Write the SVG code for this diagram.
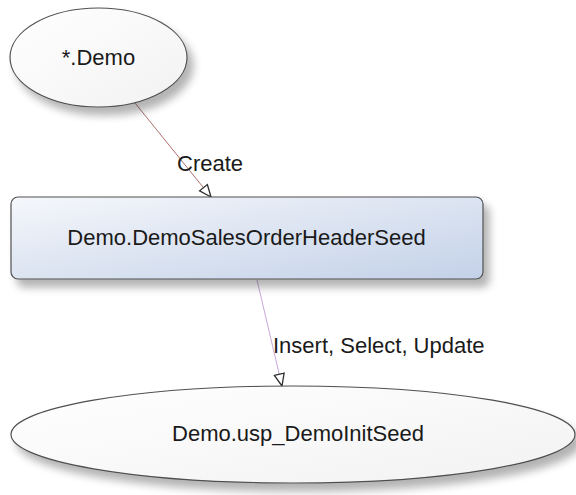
<svg xmlns="http://www.w3.org/2000/svg" width="576" height="495" viewBox="0 0 576 495">
<style>
.node{stroke:#505050;stroke-width:1.2}
.lbl{font-family:"Liberation Sans",Arial,sans-serif;font-size:22px;fill:#1a1a1a}
.edge{fill:none;stroke-width:1}
</style>
<defs>
<filter id="sh" x="-20%" y="-30%" width="140%" height="170%">
<feGaussianBlur in="SourceAlpha" stdDeviation="4"/>
<feOffset dx="6" dy="8" result="b"/>
<feComponentTransfer><feFuncA type="linear" slope="0.3"/></feComponentTransfer>
<feMerge><feMergeNode/><feMergeNode in="SourceGraphic"/></feMerge>
</filter>
<linearGradient id="ell" x1="0" y1="0" x2="1" y2="1">
<stop offset="0" stop-color="#ffffff"/><stop offset="1" stop-color="#f2f2f2"/>
</linearGradient>
<linearGradient id="box" x1="0" y1="0" x2="1" y2="1">
<stop offset="0" stop-color="#f5f7fb"/><stop offset="1" stop-color="#c3d1e8"/>
</linearGradient>
<marker id="arr" markerWidth="16" markerHeight="14" refX="13" refY="6" orient="auto" markerUnits="userSpaceOnUse">
<path d="M1,1 L13,6 L1,11 Z" fill="#ffffff" stroke="#303030" stroke-width="1.3"/>
</marker>
</defs>
<g id="connectors">
<path class="edge" d="M135,103 L211,197" stroke="#b07070" marker-end="url(#arr)"/>
<text class="lbl" x="177" y="171">Create</text>
<path class="edge" d="M257,280 L282,386" stroke="#c8a8d8" marker-end="url(#arr)"/>
<text class="lbl" x="273" y="353">Insert, Select, Update</text>
</g>
<g id="node-demo">
<ellipse class="node" cx="98.5" cy="57.5" rx="88.5" ry="49.5" fill="url(#ell)" filter="url(#sh)"/>
<text class="lbl" x="98.5" y="65" text-anchor="middle">*.Demo</text>
</g>
<g id="node-table">
<rect class="node" x="11" y="197" width="472" height="82" rx="7" fill="url(#box)" filter="url(#sh)"/>
<text class="lbl" x="246.5" y="245" text-anchor="middle">Demo.DemoSalesOrderHeaderSeed</text>
</g>
<g id="node-proc">
<ellipse class="node" cx="293" cy="434.5" rx="282" ry="48.5" fill="url(#ell)" filter="url(#sh)"/>
<text class="lbl" x="298" y="441" text-anchor="middle">Demo.usp_DemoInitSeed</text>
</g>
</svg>
